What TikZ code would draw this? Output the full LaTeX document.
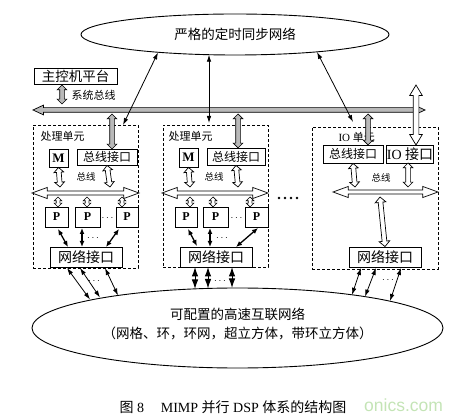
\documentclass[tikz,border=0pt]{standalone}
\usepackage{fontspec}
\setmainfont{Liberation Serif}
\newfontfamily\cjk{Noto Sans CJK SC}
\newfontfamily\wmfont{Liberation Sans}
\usetikzlibrary{shapes.geometric,shapes.arrows,arrows.meta,calc}
\definecolor{wmgreen}{RGB}{196,228,182}
\tikzset{
  box/.style={draw,line width=0.9pt,inner sep=0pt,fill=white},
  unitbox/.style={draw,line width=0.8pt,dash pattern=on 3pt off 2pt,inner sep=0pt},
  barr/.style={double arrow,draw,line width=0.7pt,inner xsep=0pt,inner ysep=2pt,double arrow head extend=2.5pt,double arrow tip angle=90},
  hatch/.style={barr,fill=gray!55},
  hollow/.style={barr,fill=white},
  conn/.style={line width=0.8pt,{Latex[length=7pt,width=4.5pt]}-{Latex[length=7pt,width=4.5pt]}},
  bconn/.style={line width=1.3pt,{Latex[length=6pt,width=5pt]}-{Latex[length=6pt,width=5pt]}},
  dconn/.style={line width=1pt,{Latex[length=9.5pt,width=6.5pt]}-{Latex[length=9.5pt,width=6.5pt]}},
  cj/.style={font=\fontsize{#1}{#1}\selectfont\cjk},
  lat/.style={font=\fontsize{#1}{#1}\selectfont\bfseries},
}
\newcommand\blk[3][]{\path let \p1=($(#3)-(#2)$), \n1={veclen(\x1,\y1)}, \n2={atan2(\y1,\x1)} in node[#1,minimum height=\n1,rotate=\n2] at ($(#2)!0.5!(#3)$) {};}
\begin{document}
\begin{tikzpicture}[x=1pt,y=-1pt]
\useasboundingbox (0,0) rectangle (460,419);
% ellipses
\node[ellipse,draw,line width=0.9pt,minimum width=308pt,minimum height=41pt,inner sep=0pt,cj=13.5] (sync) at (235,34.5) {严格的定时同步网络};
\node[ellipse,draw,line width=0.9pt,minimum width=411pt,minimum height=80pt,inner sep=0pt] (net) at (237.5,328) {};
\node[align=center,font=\fontsize{13.5}{19}\selectfont\cjk] (nett) at (237.5,323.5) {可配置的高速互联网络\\（网格、环，环网，超立方体，带环立方体）};
% host
\node[box,minimum width=83pt,minimum height=16pt,cj=13.5] (host) at (75.5,76) {主控机平台};
\node[anchor=west,cj=11] (sysl) at (68,95) {系统总线};
% unit frames
\node[unitbox,minimum width=105pt,minimum height=143pt] (u1) at (85.5,196.5) {};
\node[unitbox,minimum width=105pt,minimum height=142pt] (u2) at (215.5,196) {};
\node[unitbox,minimum width=126pt,minimum height=142pt] (u3) at (375,198) {};
\node[anchor=west,cj=11] (u1l) at (37,136) {处理单元};
\node[anchor=west,cj=11] (u2l) at (165,136) {处理单元};
\node[anchor=west,font=\fontsize{11}{11}\selectfont] (u3l) at (335,137) {IO {\cjk 单元}};
% system bus and links
\blk[hatch,inner ysep=2pt,double arrow head extend=2.5pt,double arrow tip angle=50]{33,110}{425,110}
\blk[hatch]{62,85}{62,104}
\blk[hatch]{112,114}{112,149}
\blk[hatch]{238,114}{238,148}
\blk[hatch]{368,114}{368,145}
\blk[hollow,inner ysep=2.5pt,double arrow head extend=3.5pt,double arrow tip angle=62]{416,85}{416,145}
% timing network links
\coordinate (t1) at (158,52.5); \coordinate (e1) at (123,125);
\coordinate (t2) at (209,54.7); \coordinate (e2) at (209,123);
\coordinate (t3) at (317,52);   \coordinate (e3) at (353,122);
\draw[conn] (t1) -- (e1);
\draw[conn] (t2) -- (e2);
\draw[conn] (t3) -- (e3);
% ---------- unit 1
\node[box,minimum width=19pt,minimum height=18pt,lat=13] (m1) at (58.5,158) {M};
\node[box,minimum width=60pt,minimum height=16pt,cj=12] (bi1) at (107,157) {总线接口};
\blk[hollow]{m1.south}{60,187}
\blk[hollow]{bi1.south}{110,187}
\node[cj=9.5] (bl1) at (86,177) {总线};
\blk[hollow,inner ysep=1.7pt,double arrow head extend=3.5pt,double arrow tip angle=40]{32,193}{139,193}
\blk[hollow,inner ysep=1.5pt,double arrow head extend=2pt]{58,197}{58,207}
\blk[hollow,inner ysep=1.5pt,double arrow head extend=2pt]{87,197}{87,207}
\blk[hollow,inner ysep=1.5pt,double arrow head extend=2pt]{122,197}{122,207}
\node[box,minimum width=23pt,minimum height=20pt,lat=12] (p11) at (56.5,217) {P};
\node[box,minimum width=25pt,minimum height=20pt,lat=12] (p12) at (87.5,217) {P};
\node[box,minimum width=22pt,minimum height=20pt,lat=12] (p13) at (127,217) {P};
\node (d11) at (107.5,218) {$\cdots$};
\node[box,minimum width=72pt,minimum height=20pt,cj=14] (ni1) at (86,257) {网络接口};
\draw[bconn] (58,229) -- (68,247);
\draw[bconn] (82,228) -- (82,247);
\draw[bconn] (119,229) -- (106,247);
\node (d12) at (93,238) {$\cdots$};
\draw[conn] (67,268) -- (90,299.5);
\draw[conn] (80,268) -- (100,297.5);
\draw[conn] (105,268) -- (118,295.5);
\node (d13) at (94,281) {$\cdots$};
% ---------- unit 2
\node[box,minimum width=19pt,minimum height=19pt,lat=13] (m2) at (188.5,157.5) {M};
\node[box,minimum width=58pt,minimum height=17pt,cj=12] (bi2) at (236,156.5) {总线接口};
\blk[hollow]{m2.south}{190,187}
\blk[hollow]{bi2.south}{238,187}
\node[cj=9.5] (bl2) at (214,177) {总线};
\blk[hollow,inner ysep=1.7pt,double arrow head extend=3.5pt,double arrow tip angle=40]{162,193}{268,193}
\blk[hollow,inner ysep=1.5pt,double arrow head extend=2pt]{190,197}{190,207}
\blk[hollow,inner ysep=1.5pt,double arrow head extend=2pt]{213,197}{213,207}
\blk[hollow,inner ysep=1.5pt,double arrow head extend=2pt]{250,197}{250,207}
\node[box,minimum width=22pt,minimum height=20pt,lat=12] (p21) at (186,217) {P};
\node[box,minimum width=25pt,minimum height=20pt,lat=12] (p22) at (215.5,217) {P};
\node[box,minimum width=23pt,minimum height=20pt,lat=12] (p23) at (256.5,217) {P};
\node (d21) at (236.5,218) {$\cdots$};
\node[box,minimum width=72pt,minimum height=20pt,cj=14] (ni2) at (216,257) {网络接口};
\draw[bconn] (188,229) -- (197,246);
\draw[bconn] (210,228) -- (210,247);
\draw[bconn] (258,228) -- (236,247);
\node (d22) at (222,238) {$\cdots$};
\draw[dconn] (195,267) -- (195,289);
\draw[dconn] (208,267) -- (208,288.5);
\draw[dconn] (232,267) -- (232,288);
\node (d23) at (220,281) {$\cdots$};
\foreach \x in {279,285,291,297} \fill (\x,198) circle (1.3pt);
% ---------- IO unit
\node[box,minimum width=60pt,minimum height=18pt,cj=12] (bi3) at (353,154) {总线接口};
\node[box,minimum width=46pt,minimum height=18pt,font=\fontsize{14}{14}\selectfont] (io) at (410,154) {IO {\cjk 接口}};
\blk[hollow]{bi3.south}{355,187}
\blk[hollow]{408,163}{408,187}
\node[cj=9.5] (bl3) at (381,178) {总线};
\blk[hollow,inner ysep=1.7pt,double arrow head extend=3.5pt,double arrow tip angle=40]{333,192}{438,192}
\node[box,minimum width=72pt,minimum height=20pt,cj=14] (ni3) at (385,257) {网络接口};
\blk[hollow,inner ysep=2pt,double arrow head extend=3pt]{380,197}{ni3.north}
\draw[conn] (361,268) -- (352,294.8);
\draw[conn] (376,268) -- (365,296.6);
\draw[conn] (401,268) -- (390,301);
\node (d31) at (388,280) {$\cdots$};
% caption
\node[anchor=base west,font=\fontsize{17.5}{17.5}\selectfont\wmfont,text=wmgreen,inner sep=0pt] (wm) at (364,411) {onics.com};
\node[font=\fontsize{14}{14}\selectfont,inner sep=1pt] (cap) at (233,407) {{\cjk 图} 8\hspace{1.2em}MIMP {\cjk 并行} DSP {\cjk 体系的结构图}};
\end{tikzpicture}
\end{document}
